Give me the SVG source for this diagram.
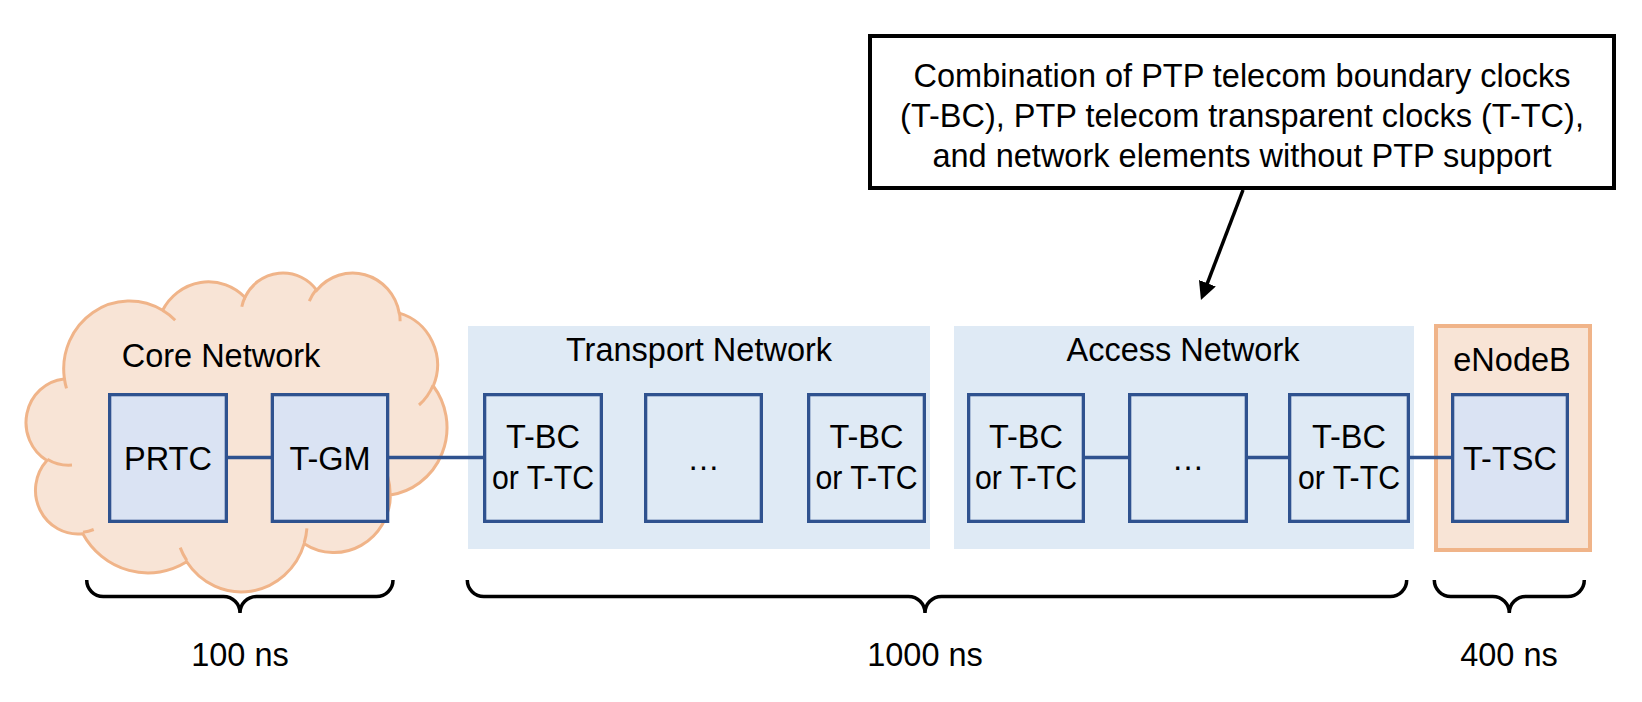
<svg xmlns="http://www.w3.org/2000/svg" width="1642" height="702" viewBox="0 0 1642 702">
<defs>
<style>
.t{font-family:"Liberation Sans",Arial,sans-serif;font-size:32.5px;fill:#000;text-anchor:middle}
.panel{fill:#DFEAF5}
.node{fill:#DFEAF5;stroke:#2F528F;stroke-width:3.3}
.node-dark{fill:#DAE3F3;stroke:#2F528F;stroke-width:3.3}
.link{stroke:#2F528F;stroke-width:3.3;fill:none}
.cloud{fill:#F8E4D6;stroke:#F0B489;stroke-width:3}
.tail{fill:none;stroke:#F0B489;stroke-width:3}
.brace{fill:none;stroke:#000;stroke-width:3.5}
</style>
<marker id="ah" markerUnits="userSpaceOnUse" markerWidth="18" markerHeight="18" viewBox="0 0 18 18" refX="12" refY="9" orient="auto"><path d="M0,0 L18,9 L0,18 z" fill="#000"/></marker>
</defs>
<rect x="0" y="0" width="1642" height="702" fill="#fff"/>

<g id="core-network">
<path class="cloud" d="M64.3,378.0 A65.73,67.83 0 0 1 162.6,310.3 A51.91,53.64 0 0 1 244.9,297.3 A42.48,43.88 0 0 1 316.7,290.2 A47.27,48.68 0 0 1 399.2,313.1 A51.91,53.68 0 0 1 433.3,386.0 A65.94,68.05 0 0 1 390.4,494.9 A56.30,58.07 0 0 1 304.2,543.7 A65.72,68.02 0 0 1 186.7,561.8 A75.14,77.82 0 0 1 82.8,533.7 A42.44,43.68 0 0 1 46.9,460.5 A42.29,43.88 0 0 1 63.9,379.0 Z"/>
<path class="tail" d="M72.0,465.1 A42.29,43.88 0 0 1 47.3,459.2 M93.7,529.5 A42.44,43.68 0 0 1 83.0,532.3 M186.7,560.4 A65.72,68.02 0 0 1 180.2,547.6 M306.9,528.4 A65.72,68.02 0 0 1 304.3,542.5 M358.5,441.3 A56.30,58.07 0 0 1 390.1,494.0 M433.1,385.2 A51.91,53.68 0 0 1 419.0,405.0 M399.3,311.9 A47.27,48.68 0 0 1 400.1,321.3 M309.3,301.1 A47.27,48.68 0 0 1 316.5,289.2 M241.8,306.7 A42.48,43.88 0 0 1 245.3,296.5 M162.6,310.2 A65.73,67.83 0 0 1 175.2,320.2 M66.5,388.4 A65.73,67.83 0 0 1 64.3,378.0"/>
<text class="t" x="221" y="367">Core Network</text>
</g>

<g id="transport-network">
<rect class="panel" x="468" y="326" width="462" height="223"/>
<text class="t" x="699" y="361">Transport Network</text>
</g>

<g id="access-network">
<rect class="panel" x="954" y="326" width="460" height="223"/>
<text class="t" x="1183" y="361">Access Network</text>
</g>

<g id="enodeb">
<rect x="1436" y="326" width="154" height="224" fill="#F8E4D6" stroke="#F0B489" stroke-width="4"/>
<text class="t" x="1512" y="371">eNodeB</text>
</g>

<g id="connectors">
<line class="link" x1="226" y1="457.5" x2="273" y2="457.5"/>
<line class="link" x1="387" y1="457.5" x2="486" y2="457.5"/>
<line class="link" x1="1083" y1="457.5" x2="1131" y2="457.5"/>
<line class="link" x1="1246" y1="457.5" x2="1291" y2="457.5"/>
<line class="link" x1="1408" y1="457.5" x2="1454" y2="457.5"/>
</g>

<g id="prtc">
<rect class="node-dark" x="109.65" y="394.65" width="116.7" height="126.7"/>
<text class="t" x="168" y="470">PRTC</text>
</g>
<g id="t-gm">
<rect class="node-dark" x="272.35" y="394.65" width="115.3" height="126.7"/>
<text class="t" x="330" y="470">T-GM</text>
</g>
<g id="transport-node-1">
<rect class="node" x="484.65" y="394.65" width="116.7" height="126.7"/>
<text class="t" x="543" y="448">T-BC</text>
<text class="t" x="543" y="489" textLength="102" lengthAdjust="spacingAndGlyphs">or T-TC</text>
</g>
<g id="transport-node-2">
<rect class="node" x="645.65" y="394.65" width="115.7" height="126.7"/>
<text class="t" x="703.5" y="470">…</text>
</g>
<g id="transport-node-3">
<rect class="node" x="808.65" y="394.65" width="115.7" height="126.7"/>
<text class="t" x="866.5" y="448">T-BC</text>
<text class="t" x="866.5" y="489" textLength="102" lengthAdjust="spacingAndGlyphs">or T-TC</text>
</g>
<g id="access-node-1">
<rect class="node" x="968.65" y="394.65" width="114.7" height="126.7"/>
<text class="t" x="1026" y="448">T-BC</text>
<text class="t" x="1026" y="489" textLength="102" lengthAdjust="spacingAndGlyphs">or T-TC</text>
</g>
<g id="access-node-2">
<rect class="node" x="1129.65" y="394.65" width="116.7" height="126.7"/>
<text class="t" x="1188" y="470">…</text>
</g>
<g id="access-node-3">
<rect class="node" x="1289.65" y="394.65" width="118.7" height="126.7"/>
<text class="t" x="1349" y="448">T-BC</text>
<text class="t" x="1349" y="489" textLength="102" lengthAdjust="spacingAndGlyphs">or T-TC</text>
</g>
<g id="t-tsc">
<rect class="node-dark" x="1452.65" y="394.65" width="114.7" height="126.7"/>
<text class="t" x="1510" y="470">T-TSC</text>
</g>

<g id="callout">
<rect x="870" y="36" width="744" height="152" fill="#fff" stroke="#000" stroke-width="4"/>
<text class="t" x="1242" y="87">Combination of PTP telecom boundary clocks</text>
<text class="t" x="1242" y="127">(T-BC), PTP telecom transparent clocks (T-TC),</text>
<text class="t" x="1242" y="167">and network elements without PTP support</text>
<line x1="1243" y1="190" x2="1203.1" y2="294.4" stroke="#000" stroke-width="3.5" marker-end="url(#ah)"/>
</g>

<g id="braces">
<path class="brace" d="M86.7,580 A16.5,16.5 0 0 0 103.2,596.5 H223.5 A16.5,16.5 0 0 1 240,613 A16.5,16.5 0 0 1 256.5,596.5 H376.5 A16.5,16.5 0 0 0 393,580"/>
<path class="brace" d="M467.3,580 A16.5,16.5 0 0 0 483.8,596.5 H908.5 A16.5,16.5 0 0 1 925,613 A16.5,16.5 0 0 1 941.5,596.5 H1390.2 A16.5,16.5 0 0 0 1406.7,580"/>
<path class="brace" d="M1434.3,580 A16.5,16.5 0 0 0 1450.8,596.5 H1492.8 A16.5,16.5 0 0 1 1509.3,613 A16.5,16.5 0 0 1 1525.8,596.5 H1567.8 A16.5,16.5 0 0 0 1584.3,580"/>
<text class="t" x="240" y="666">100 ns</text>
<text class="t" x="925" y="666">1000 ns</text>
<text class="t" x="1509" y="666">400 ns</text>
</g>
</svg>
